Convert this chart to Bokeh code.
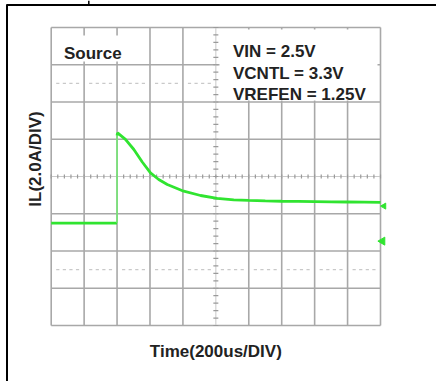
import numpy as np
from bokeh.plotting import figure
from bokeh.models import Range1d
from bokeh.core.properties import value
from bokeh.embed import file_html
from bokeh.resources import INLINE

# ---------------- data ----------------
TIME_US = [0, 400, 400, 403, 451, 502, 553, 603, 653, 705, 805, 907, 1008,
           1109, 1200, 1300, 1400, 1500, 1600, 1700, 1800, 1900, 2000]
IL_A = [-2.5, -2.5, 2.2, 2.34, 1.99, 1.45, 0.78, 0.19, -0.16, -0.43, -0.79,
        -1.02, -1.17, -1.25, -1.28, -1.31, -1.33, -1.34, -1.35, -1.36,
        -1.37, -1.38, -1.39]
X_TICKS_US = list(range(0, 2001, 200))      # 200 us / div, 10 divisions
Y_TICKS_A = list(range(-8, 9, 2))           # 2.0 A / div, 8 divisions
MARKER_LEVELS_A = [-1.59, -3.47]            # channel reference markers
MARKER_SIZES = [6, 8]
TITLE = "Source"
CONDITIONS = ["VIN = 2.5V", "VCNTL = 3.3V", "VREFEN = 1.25V"]
X_LABEL = "Time(200us/DIV)"
Y_LABEL = "IL(2.0A/DIV)"

# ---------------- layout (pixels of the 436x381 page) ----------------
W, H = 436, 381
GX0, GX1 = 50.7, 380.0
GY0, GY1 = 27.0, 325.0
US_PER_PX = (X_TICKS_US[-1] - X_TICKS_US[0]) / (GX1 - GX0)
A_PER_PX = (Y_TICKS_A[-1] - Y_TICKS_A[0]) / (GY1 - GY0)
GYC = (GY0 + GY1) / 2


def dx(px):
    return X_TICKS_US[0] + (px - GX0) * US_PER_PX


def dy(py):
    return (GYC - py) * A_PER_PX


p = figure(width=W, height=H, x_range=Range1d(dx(0), dx(W)),
           y_range=Range1d(dy(H), dy(0)), output_backend="svg",
           toolbar_location=None, x_axis_location=None, y_axis_location=None,
           min_border=0)
p.grid.visible = False
p.outline_line_color = None
p.background_fill_color = "white"
p.border_fill_color = "white"

GRID = "#a8a8a8"
FAINT = "#c9c9c9"
xmid = (X_TICKS_US[0] + X_TICKS_US[-1]) / 2
ymid = 0.0

# solid grid lines
vx = [t for t in X_TICKS_US if t != xmid]
p.segment(x0=vx, y0=[Y_TICKS_A[0]] * len(vx), x1=vx, y1=[Y_TICKS_A[-1]] * len(vx),
          line_color=GRID, line_width=1.6)
hy = [a for a in Y_TICKS_A if a != ymid]
p.segment(x0=[X_TICKS_US[0]] * len(hy), y0=hy, x1=[X_TICKS_US[-1]] * len(hy), y1=hy,
          line_color=GRID, line_width=1.6)

# centre lines with minor ticks
p.segment(x0=[X_TICKS_US[0]], y0=[ymid], x1=[X_TICKS_US[-1]], y1=[ymid],
          line_color=FAINT, line_width=1)
p.segment(x0=[xmid], y0=[Y_TICKS_A[0]], x1=[xmid], y1=[Y_TICKS_A[-1]],
          line_color=FAINT, line_width=1)
xstep = (X_TICKS_US[1] - X_TICKS_US[0]) / 5
ystep = (Y_TICKS_A[1] - Y_TICKS_A[0]) / 5
mx = np.arange(X_TICKS_US[0], X_TICKS_US[-1] + 1e-6, xstep)
my = np.arange(Y_TICKS_A[0], Y_TICKS_A[-1] + 1e-6, ystep)
p.segment(x0=mx, y0=[ymid - 2 * A_PER_PX] * len(mx), x1=mx, y1=[ymid + 2 * A_PER_PX] * len(mx),
          line_color="#9a9a9a", line_width=1.2)
p.segment(x0=[xmid - 2.5 * US_PER_PX] * len(my), y0=my, x1=[xmid + 2.5 * US_PER_PX] * len(my), y1=my,
          line_color="#9a9a9a", line_width=1.2)

# dotted lines at +-2.5 div
dots = [t for i, t in enumerate(mx) if i % 5 != 0]
for lvl in (2.5 * (Y_TICKS_A[1] - Y_TICKS_A[0]), -2.5 * (Y_TICKS_A[1] - Y_TICKS_A[0])):
    p.segment(x0=[t - 1.6 * US_PER_PX for t in dots], y0=[lvl] * len(dots),
              x1=[t + 1.6 * US_PER_PX for t in dots], y1=[lvl] * len(dots),
              line_color=FAINT, line_width=1.3)

# white label boxes over the grid
p.quad(left=[dx(58), dx(219)], right=[dx(126), dx(377)],
       top=[dy(35), dy(29)], bottom=[dy(61), dy(100)],
       fill_color="white", line_color=None)

# trace
GREEN = "#30e430"
p.line(x=TIME_US[:2], y=IL_A[:2], line_color=GREEN, line_width=2.8)
p.segment(x0=[TIME_US[1]], y0=[IL_A[1]], x1=[TIME_US[2]], y1=[IL_A[2]],
          line_color="#6fea6f", line_width=1.5)
p.line(x=TIME_US[2:], y=IL_A[2:], line_color=GREEN, line_width=2.8)

# channel reference markers at the right edge
p.scatter(x=[dx(383.5), dx(382)], y=MARKER_LEVELS_A, size=MARKER_SIZES,
          marker="triangle", angle=np.pi / 2, fill_color=GREEN, line_color=GREEN)

# texts
FONT = value("Liberation Sans")
p.text(x=[dx(63.5)], y=[dy(53.3)], text=[TITLE], text_font=FONT,
       text_font_style="bold", text_font_size="17px", text_color="#222222",
       text_baseline="alphabetic", text_align="left")
p.text(x=[dx(232.5)] * 3, y=[dy(50.7), dy(72.5), dy(93.5)], text=CONDITIONS,
       text_font=FONT, text_font_style="bold", text_font_size="17px",
       text_color="#222222", text_baseline="alphabetic", text_align="left")
p.text(x=[xmid], y=[dy(351)], text=[X_LABEL], text_font=FONT,
       text_font_style="bold", text_font_size="17px", text_color="#222222",
       text_baseline="alphabetic", text_align="center")
p.text(x=[dx(35)], y=[dy(158.5)], text=[Y_LABEL], text_font=FONT,
       text_font_style="bold", text_font_size="17px", text_color="#222222",
       text_baseline="alphabetic", text_align="center", angle=np.pi / 2)

# outer black frame (top and left edges) and stub above
p.segment(x0=[dx(6), dx(6.5), dx(88.3)], y0=[dy(4.5), dy(4), dy(0)],
          x1=[dx(W), dx(6.5), dx(88.3)], y1=[dy(4.5), dy(H), dy(4)],
          line_color="black", line_width=[2, 2, 1.5])

open("out.html", "w").write(file_html(p, INLINE))
